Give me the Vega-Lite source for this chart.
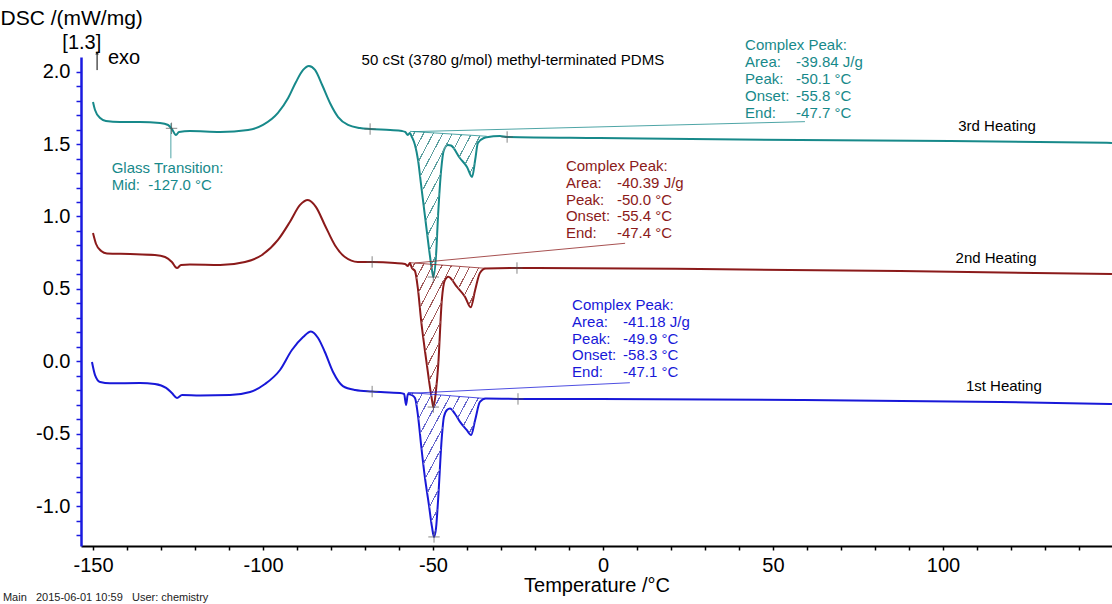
{
  "$schema": "https://vega.github.io/schema/vega-lite/v6.json",
  "autosize": "none",
  "width": 1031,
  "height": 489,
  "padding": {"left": 81, "top": 57, "right": 0, "bottom": 58},
  "background": "white",
  "config": {
    "view": {"stroke": null},
    "font": "Liberation Sans",
    "axis": {"labelOverlap": false, "labelFlush": false, "grid": false, "labelFont": "Liberation Sans", "titleFont": "Liberation Sans", "labelFontSize": 20, "labelColor": "black", "titleColor": "black", "titleFontWeight": "normal", "labelBound": false},
    "axisX": {"domainColor": "black", "domainWidth": 2, "tickColor": "black", "tickSize": 4, "tickWidth": 1.5, "labelPadding": 5, "titleFontSize": 20, "titlePadding": 0},
    "axisY": {"domainColor": "#1a1ae0", "domainWidth": 2.5, "tickColor": "#1a1ae0", "tickSize": 5, "tickWidth": 1.5, "labelPadding": 6, "titleFontSize": 21}
  },
  "datasets": {
    "curves": [
      {"s":"3rd","T":-150,"v":1.791},{"s":"3rd","T":-149.4,"v":1.735},{"s":"3rd","T":-147.9,"v":1.68},{"s":"3rd","T":-146.2,"v":1.66},{"s":"3rd","T":-142.1,"v":1.653},{"s":"3rd","T":-136.2,"v":1.653},{"s":"3rd","T":-130.3,"v":1.646},{"s":"3rd","T":-127.9,"v":1.632},{"s":"3rd","T":-126.8,"v":1.604},{"s":"3rd","T":-125.6,"v":1.563},{"s":"3rd","T":-124.7,"v":1.584},{"s":"3rd","T":-121.5,"v":1.59},{"s":"3rd","T":-112.6,"v":1.584},{"s":"3rd","T":-104.4,"v":1.597},{"s":"3rd","T":-100,"v":1.632},{"s":"3rd","T":-95.6,"v":1.715},{"s":"3rd","T":-92.6,"v":1.818},{"s":"3rd","T":-90.3,"v":1.929},{"s":"3rd","T":-88.2,"v":2.012},{"s":"3rd","T":-86.5,"v":2.039},{"s":"3rd","T":-84.7,"v":2.012},{"s":"3rd","T":-82.6,"v":1.908},{"s":"3rd","T":-80.3,"v":1.784},{"s":"3rd","T":-77.9,"v":1.687},{"s":"3rd","T":-75,"v":1.632},{"s":"3rd","T":-71.5,"v":1.611},{"s":"3rd","T":-68.5,"v":1.604},{"s":"3rd","T":-62.6,"v":1.597},{"s":"3rd","T":-59.1,"v":1.59},{"s":"3rd","T":-58.2,"v":1.584},{"s":"3rd","T":-57.4,"v":1.563},
      {"s":"3rd","T":-56.8,"v":1.577,"b":1.588},{"s":"3rd","T":-56.2,"v":1.549,"b":1.587},{"s":"3rd","T":-55.3,"v":1.494,"b":1.586},{"s":"3rd","T":-54.4,"v":1.39,"b":1.584},{"s":"3rd","T":-53.5,"v":1.218,"b":1.583},{"s":"3rd","T":-52.4,"v":1.01,"b":1.581},{"s":"3rd","T":-51.2,"v":0.782,"b":1.58},{"s":"3rd","T":-50.3,"v":0.63,"b":1.578},{"s":"3rd","T":-49.9,"v":0.582,"b":1.578},{"s":"3rd","T":-49.1,"v":0.734,"b":1.576},{"s":"3rd","T":-48.5,"v":1.01,"b":1.575},{"s":"3rd","T":-47.6,"v":1.321,"b":1.574},{"s":"3rd","T":-46.8,"v":1.459,"b":1.573},{"s":"3rd","T":-45.6,"v":1.494,"b":1.571},{"s":"3rd","T":-44.7,"v":1.49,"b":1.57},{"s":"3rd","T":-42.1,"v":1.404,"b":1.566},{"s":"3rd","T":-40,"v":1.342,"b":1.563},{"s":"3rd","T":-38.5,"v":1.273,"b":1.56},{"s":"3rd","T":-37.6,"v":1.39,"b":1.559},{"s":"3rd","T":-36.8,"v":1.508,"b":1.558},{"s":"3rd","T":-35,"v":1.542,"b":1.555},{"s":"3rd","T":-34.2,"v":1.548,"b":1.554},
      {"s":"3rd","T":-30.3,"v":1.556},{"s":"3rd","T":-28.2,"v":1.549},{"s":"3rd","T":-0.9,"v":1.542},{"s":"3rd","T":57.9,"v":1.528},{"s":"3rd","T":102.1,"v":1.521},{"s":"3rd","T":149.7,"v":1.508},

      {"s":"2nd","T":-150,"v":0.886},{"s":"2nd","T":-149.1,"v":0.81},{"s":"2nd","T":-147.6,"v":0.762},{"s":"2nd","T":-145.9,"v":0.745},{"s":"2nd","T":-139.1,"v":0.741},{"s":"2nd","T":-131.8,"v":0.734},{"s":"2nd","T":-128.8,"v":0.72},{"s":"2nd","T":-126.8,"v":0.686},{"s":"2nd","T":-125.3,"v":0.644},{"s":"2nd","T":-124.1,"v":0.665},{"s":"2nd","T":-121.5,"v":0.668},{"s":"2nd","T":-112.6,"v":0.665},{"s":"2nd","T":-105.3,"v":0.686},{"s":"2nd","T":-100.3,"v":0.734},{"s":"2nd","T":-95.6,"v":0.838},{"s":"2nd","T":-92.1,"v":0.962},{"s":"2nd","T":-89.1,"v":1.08},{"s":"2nd","T":-86.8,"v":1.114},{"s":"2nd","T":-84.4,"v":1.065},{"s":"2nd","T":-81.8,"v":0.94},{"s":"2nd","T":-78.8,"v":0.8},{"s":"2nd","T":-75.9,"v":0.72},{"s":"2nd","T":-72.1,"v":0.686},{"s":"2nd","T":-67.9,"v":0.686},{"s":"2nd","T":-61.2,"v":0.679},{"s":"2nd","T":-58.2,"v":0.672},{"s":"2nd","T":-57.4,"v":0.658},
      {"s":"2nd","T":-56.8,"v":0.679,"b":0.681},{"s":"2nd","T":-56.2,"v":0.644,"b":0.68},{"s":"2nd","T":-55.3,"v":0.624,"b":0.678},{"s":"2nd","T":-54.4,"v":0.493,"b":0.677},{"s":"2nd","T":-53.5,"v":0.285,"b":0.675},{"s":"2nd","T":-52.4,"v":0.078,"b":0.673},{"s":"2nd","T":-51.2,"v":-0.129,"b":0.671},{"s":"2nd","T":-50.3,"v":-0.267,"b":0.67},{"s":"2nd","T":-49.9,"v":-0.316,"b":0.669},{"s":"2nd","T":-49.1,"v":-0.198,"b":0.668},{"s":"2nd","T":-48.5,"v":-0.039,"b":0.667},{"s":"2nd","T":-47.4,"v":0.424,"b":0.665},{"s":"2nd","T":-46.5,"v":0.562,"b":0.663},{"s":"2nd","T":-45.5,"v":0.584,"b":0.661},{"s":"2nd","T":-43,"v":0.515,"b":0.657},{"s":"2nd","T":-40.6,"v":0.446,"b":0.653},{"s":"2nd","T":-38.9,"v":0.373,"b":0.65},{"s":"2nd","T":-37.6,"v":0.492,"b":0.648},{"s":"2nd","T":-36.2,"v":0.61,"b":0.645},{"s":"2nd","T":-34.5,"v":0.64,"b":0.642},
      {"s":"2nd","T":-25.3,"v":0.644},{"s":"2nd","T":28.5,"v":0.637},{"s":"2nd","T":87.4,"v":0.623},{"s":"2nd","T":149.7,"v":0.603},

      {"s":"1st","T":-150.3,"v":-0.005},{"s":"1st","T":-149.4,"v":-0.095},{"s":"1st","T":-147.9,"v":-0.143},{"s":"1st","T":-145,"v":-0.152},{"s":"1st","T":-136.2,"v":-0.15},{"s":"1st","T":-131.8,"v":-0.157},{"s":"1st","T":-128.5,"v":-0.184},{"s":"1st","T":-126.8,"v":-0.219},{"s":"1st","T":-125.3,"v":-0.253},{"s":"1st","T":-123.8,"v":-0.233},{"s":"1st","T":-118.5,"v":-0.236},{"s":"1st","T":-109.7,"v":-0.233},{"s":"1st","T":-103.8,"v":-0.212},{"s":"1st","T":-99.4,"v":-0.157},{"s":"1st","T":-95,"v":-0.06},{"s":"1st","T":-91.5,"v":0.078},{"s":"1st","T":-88.2,"v":0.168},{"s":"1st","T":-85.9,"v":0.206},{"s":"1st","T":-83.8,"v":0.161},{"s":"1st","T":-81.8,"v":0.064},{"s":"1st","T":-79.4,"v":-0.074},{"s":"1st","T":-76.5,"v":-0.171},{"s":"1st","T":-72.9,"v":-0.198},{"s":"1st","T":-67.9,"v":-0.209},{"s":"1st","T":-59.7,"v":-0.219},{"s":"1st","T":-58.5,"v":-0.226},{"s":"1st","T":-57.9,"v":-0.302},
      {"s":"1st","T":-57.4,"v":-0.226,"b":-0.215},{"s":"1st","T":-56.2,"v":-0.233,"b":-0.217},{"s":"1st","T":-55.3,"v":-0.253,"b":-0.219},{"s":"1st","T":-54.4,"v":-0.378,"b":-0.22},{"s":"1st","T":-53.5,"v":-0.578,"b":-0.222},{"s":"1st","T":-52.4,"v":-0.799,"b":-0.224},{"s":"1st","T":-51.2,"v":-0.992,"b":-0.226},{"s":"1st","T":-50.3,"v":-1.144,"b":-0.228},{"s":"1st","T":-49.7,"v":-1.213,"b":-0.229},{"s":"1st","T":-49.1,"v":-1.151,"b":-0.23},{"s":"1st","T":-48.5,"v":-0.958,"b":-0.231},{"s":"1st","T":-47.4,"v":-0.523,"b":-0.233},{"s":"1st","T":-46.8,"v":-0.385,"b":-0.234},{"s":"1st","T":-45.9,"v":-0.336,"b":-0.236},{"s":"1st","T":-45,"v":-0.326,"b":-0.237},{"s":"1st","T":-43.5,"v":-0.364,"b":-0.24},{"s":"1st","T":-42.1,"v":-0.417,"b":-0.243},{"s":"1st","T":-40.1,"v":-0.474,"b":-0.246},{"s":"1st","T":-38.8,"v":-0.509,"b":-0.249},{"s":"1st","T":-37.6,"v":-0.405,"b":-0.251},{"s":"1st","T":-36.2,"v":-0.281,"b":-0.254},{"s":"1st","T":-34.5,"v":-0.257,"b":-0.257},
      {"s":"1st","T":-25,"v":-0.26},{"s":"1st","T":-0.9,"v":-0.26},{"s":"1st","T":57.9,"v":-0.267},{"s":"1st","T":116.8,"v":-0.281},{"s":"1st","T":149.7,"v":-0.295}
    ],
    "leaders": [
      {"s":"3rd","id":"tb","T":-56.8,"v":1.588},{"s":"3rd","id":"tb","T":-34.2,"v":1.554},
      {"s":"3rd","id":"tl","T":-55.9,"v":1.586},{"s":"3rd","id":"tl","T":59.4,"v":1.655},
      {"s":"3rd","id":"tg","T":-127.1,"v":1.644},{"s":"3rd","id":"tg","T":-127.1,"v":1.402},
      {"s":"2nd","id":"rb","T":-56.8,"v":0.681},{"s":"2nd","id":"rb","T":-34.5,"v":0.642},
      {"s":"2nd","id":"rl","T":-55.3,"v":0.679},{"s":"2nd","id":"rl","T":6.5,"v":0.815},
      {"s":"1st","id":"bb","T":-57.4,"v":-0.215},{"s":"1st","id":"bb","T":-34.5,"v":-0.257},
      {"s":"1st","id":"bl","T":-56.8,"v":-0.221},{"s":"1st","id":"bl","T":7.9,"v":-0.148}
    ],
    "crosses": [
      {"s":"3rd","T":-126.9,"v":1.609},{"s":"3rd","T":-68.5,"v":1.604},{"s":"3rd","T":-28.2,"v":1.549},{"s":"3rd","T":-49.9,"v":0.582},
      {"s":"2nd","T":-67.9,"v":0.686},{"s":"2nd","T":-25.3,"v":0.644},{"s":"2nd","T":-49.9,"v":-0.316},
      {"s":"1st","T":-67.9,"v":-0.209},{"s":"1st","T":-25,"v":-0.26},{"s":"1st","T":-49.7,"v":-1.213}
    ],
    "notes": [
      {"s":"3rd","T":41.8,"v":2.184,"lab":"Complex Peak:","val":""},
      {"s":"3rd","T":41.8,"v":2.067,"lab":"Area:","val":"-39.84 J/g"},
      {"s":"3rd","T":41.8,"v":1.95,"lab":"Peak:","val":"-50.1 °C"},
      {"s":"3rd","T":41.8,"v":1.832,"lab":"Onset:","val":"-55.8 °C"},
      {"s":"3rd","T":41.8,"v":1.716,"lab":"End:","val":"-47.7 °C"},
      {"s":"2nd","T":-10.9,"v":1.349,"lab":"Complex Peak:","val":""},
      {"s":"2nd","T":-10.9,"v":1.231,"lab":"Area:","val":"-40.39 J/g"},
      {"s":"2nd","T":-10.9,"v":1.114,"lab":"Peak:","val":"-50.0 °C"},
      {"s":"2nd","T":-10.9,"v":1.003,"lab":"Onset:","val":"-55.4 °C"},
      {"s":"2nd","T":-10.9,"v":0.886,"lab":"End:","val":"-47.4 °C"},
      {"s":"1st","T":-9.1,"v":0.389,"lab":"Complex Peak:","val":""},
      {"s":"1st","T":-9.1,"v":0.272,"lab":"Area:","val":"-41.18 J/g"},
      {"s":"1st","T":-9.1,"v":0.154,"lab":"Peak:","val":"-49.9 °C"},
      {"s":"1st","T":-9.1,"v":0.044,"lab":"Onset:","val":"-58.3 °C"},
      {"s":"1st","T":-9.1,"v":-0.074,"lab":"End:","val":"-47.1 °C"},
      {"s":"3rd","T":-144.5,"v":1.333,"lab":"Glass Transition:","val":""},
      {"s":"3rd","T":-144.5,"v":1.218,"lab":"Mid:\u00a0\u00a0-127.0 °C","val":""}
    ],
    "names": [
      {"T":115.9,"v":1.625,"txt":"3rd Heating"},
      {"T":115.6,"v":0.713,"txt":"2nd Heating"},
      {"T":117.9,"v":-0.17,"txt":"1st Heating"}
    ],
    "misc": [
      {"k":"title","T":-26.5,"v":2.081,"txt":"50 cSt (3780 g/mol) methyl-terminated PDMS"},
      {"k":"bracket","T":-153.3,"v":2.198,"txt":"[1.3]"},
      {"k":"exo","T":-145.6,"v":2.095,"txt":"exo"},
      {"k":"arrow","T":-148.8,"v":2.136,"v2":2.011},
      {"k":"head","T":-148.8,"v":2.13},
      {"k":"foot","T":-176.5,"v":-1.635,"txt":"Main\u00a0\u00a0\u00a02015-06-01 10:59\u00a0\u00a0\u00a0User: chemistry"}
    ]
  },
  "encoding": {
    "x": {"field": "T", "type": "quantitative", "scale": {"domain": [-153.53, 149.71], "nice": false, "zero": false},
      "axis": {"values": [-150,-140,-130,-120,-110,-100,-90,-80,-70,-60,-50,-40,-30,-20,-10,0,10,20,30,40,50,60,70,80,90,100,110,120,130,140],
        "labelExpr": "datum.value % 50 === 0 ? (datum.value < 0 ? '-' : '') + format(abs(datum.value), 'd') : ''",
        "labelOverlap": false, "title": "Temperature /°C"}},
    "y": {"field": "v", "type": "quantitative", "scale": {"domain": [-1.2756, 2.1015], "nice": false, "zero": false},
      "axis": {"values": [-1.2,-1.1,-1,-0.9,-0.8,-0.7,-0.6,-0.5,-0.4,-0.3,-0.2,-0.1,0,0.1,0.2,0.3,0.4,0.5,0.6,0.7,0.8,0.9,1,1.1,1.2,1.3,1.4,1.5,1.6,1.7,1.8,1.9,2],
        "labelExpr": "abs(round(datum.value*10)) % 5 === 0 ? (datum.value < -0.001 ? '-' : '') + format(abs(datum.value), '.1f') : ''",
        "labelOverlap": false,
        "title": "DSC /(mW/mg)", "titleAngle": 0, "titleAlign": "left", "titleBaseline": "middle", "titleX": -81, "titleY": -39}}
  },
  "layer": [
    {
      "data": {"name": "curves"},
      "mark": {"type": "line", "strokeWidth": 2, "interpolate": "monotone"},
      "encoding": {
        "color": {"field": "s", "type": "nominal", "legend": null,
          "scale": {"domain": ["3rd", "2nd", "1st"], "range": ["#17898a", "#8b1a1a", "#1818d8"]}}
      }
    },
    {
      "data": {"name": "curves"},
      "transform": [{"filter": "datum.s === '3rd' && isValid(datum.b)"}],
      "mark": {"type": "area", "fill": {"gradient": "linear", "x1": 0, "y1": 0, "x2": 1, "y2": 1, "stops": [
        {"offset":0.03,"color":"rgba(255,255,255,0)"},{"offset":0.03,"color":"#5c9f9f"},{"offset":0.038,"color":"#5c9f9f"},{"offset":0.038,"color":"rgba(255,255,255,0)"},
        {"offset":0.0925,"color":"rgba(255,255,255,0)"},{"offset":0.0925,"color":"#5c9f9f"},{"offset":0.1005,"color":"#5c9f9f"},{"offset":0.1005,"color":"rgba(255,255,255,0)"},
        {"offset":0.155,"color":"rgba(255,255,255,0)"},{"offset":0.155,"color":"#5c9f9f"},{"offset":0.163,"color":"#5c9f9f"},{"offset":0.163,"color":"rgba(255,255,255,0)"},
        {"offset":0.2175,"color":"rgba(255,255,255,0)"},{"offset":0.2175,"color":"#5c9f9f"},{"offset":0.2255,"color":"#5c9f9f"},{"offset":0.2255,"color":"rgba(255,255,255,0)"},
        {"offset":0.28,"color":"rgba(255,255,255,0)"},{"offset":0.28,"color":"#5c9f9f"},{"offset":0.288,"color":"#5c9f9f"},{"offset":0.288,"color":"rgba(255,255,255,0)"},
        {"offset":0.3425,"color":"rgba(255,255,255,0)"},{"offset":0.3425,"color":"#5c9f9f"},{"offset":0.3505,"color":"#5c9f9f"},{"offset":0.3505,"color":"rgba(255,255,255,0)"},
        {"offset":0.405,"color":"rgba(255,255,255,0)"},{"offset":0.405,"color":"#5c9f9f"},{"offset":0.413,"color":"#5c9f9f"},{"offset":0.413,"color":"rgba(255,255,255,0)"},
        {"offset":0.4675,"color":"rgba(255,255,255,0)"},{"offset":0.4675,"color":"#5c9f9f"},{"offset":0.4755,"color":"#5c9f9f"},{"offset":0.4755,"color":"rgba(255,255,255,0)"},
        {"offset":0.53,"color":"rgba(255,255,255,0)"},{"offset":0.53,"color":"#5c9f9f"},{"offset":0.538,"color":"#5c9f9f"},{"offset":0.538,"color":"rgba(255,255,255,0)"},
        {"offset":0.5925,"color":"rgba(255,255,255,0)"},{"offset":0.5925,"color":"#5c9f9f"},{"offset":0.6005,"color":"#5c9f9f"},{"offset":0.6005,"color":"rgba(255,255,255,0)"},
        {"offset":0.655,"color":"rgba(255,255,255,0)"},{"offset":0.655,"color":"#5c9f9f"},{"offset":0.663,"color":"#5c9f9f"},{"offset":0.663,"color":"rgba(255,255,255,0)"},
        {"offset":0.7175,"color":"rgba(255,255,255,0)"},{"offset":0.7175,"color":"#5c9f9f"},{"offset":0.7255,"color":"#5c9f9f"},{"offset":0.7255,"color":"rgba(255,255,255,0)"},
        {"offset":0.78,"color":"rgba(255,255,255,0)"},{"offset":0.78,"color":"#5c9f9f"},{"offset":0.788,"color":"#5c9f9f"},{"offset":0.788,"color":"rgba(255,255,255,0)"},
        {"offset":0.8425,"color":"rgba(255,255,255,0)"},{"offset":0.8425,"color":"#5c9f9f"},{"offset":0.8505,"color":"#5c9f9f"},{"offset":0.8505,"color":"rgba(255,255,255,0)"},
        {"offset":0.905,"color":"rgba(255,255,255,0)"},{"offset":0.905,"color":"#5c9f9f"},{"offset":0.913,"color":"#5c9f9f"},{"offset":0.913,"color":"rgba(255,255,255,0)"},
        {"offset":0.9675,"color":"rgba(255,255,255,0)"},{"offset":0.9675,"color":"#5c9f9f"},{"offset":0.9755,"color":"#5c9f9f"},{"offset":0.9755,"color":"rgba(255,255,255,0)"}
      ]}},
      "encoding": {"y2": {"field": "b"}}
    },
    {
      "data": {"name": "curves"},
      "transform": [{"filter": "datum.s === '2nd' && isValid(datum.b)"}],
      "mark": {"type": "area", "fill": {"gradient": "linear", "x1": 0, "y1": 0, "x2": 1, "y2": 1, "stops": [
        {"offset":0.03,"color":"rgba(255,255,255,0)"},{"offset":0.03,"color":"#a05a5a"},{"offset":0.038,"color":"#a05a5a"},{"offset":0.038,"color":"rgba(255,255,255,0)"},
        {"offset":0.0925,"color":"rgba(255,255,255,0)"},{"offset":0.0925,"color":"#a05a5a"},{"offset":0.1005,"color":"#a05a5a"},{"offset":0.1005,"color":"rgba(255,255,255,0)"},
        {"offset":0.155,"color":"rgba(255,255,255,0)"},{"offset":0.155,"color":"#a05a5a"},{"offset":0.163,"color":"#a05a5a"},{"offset":0.163,"color":"rgba(255,255,255,0)"},
        {"offset":0.2175,"color":"rgba(255,255,255,0)"},{"offset":0.2175,"color":"#a05a5a"},{"offset":0.2255,"color":"#a05a5a"},{"offset":0.2255,"color":"rgba(255,255,255,0)"},
        {"offset":0.28,"color":"rgba(255,255,255,0)"},{"offset":0.28,"color":"#a05a5a"},{"offset":0.288,"color":"#a05a5a"},{"offset":0.288,"color":"rgba(255,255,255,0)"},
        {"offset":0.3425,"color":"rgba(255,255,255,0)"},{"offset":0.3425,"color":"#a05a5a"},{"offset":0.3505,"color":"#a05a5a"},{"offset":0.3505,"color":"rgba(255,255,255,0)"},
        {"offset":0.405,"color":"rgba(255,255,255,0)"},{"offset":0.405,"color":"#a05a5a"},{"offset":0.413,"color":"#a05a5a"},{"offset":0.413,"color":"rgba(255,255,255,0)"},
        {"offset":0.4675,"color":"rgba(255,255,255,0)"},{"offset":0.4675,"color":"#a05a5a"},{"offset":0.4755,"color":"#a05a5a"},{"offset":0.4755,"color":"rgba(255,255,255,0)"},
        {"offset":0.53,"color":"rgba(255,255,255,0)"},{"offset":0.53,"color":"#a05a5a"},{"offset":0.538,"color":"#a05a5a"},{"offset":0.538,"color":"rgba(255,255,255,0)"},
        {"offset":0.5925,"color":"rgba(255,255,255,0)"},{"offset":0.5925,"color":"#a05a5a"},{"offset":0.6005,"color":"#a05a5a"},{"offset":0.6005,"color":"rgba(255,255,255,0)"},
        {"offset":0.655,"color":"rgba(255,255,255,0)"},{"offset":0.655,"color":"#a05a5a"},{"offset":0.663,"color":"#a05a5a"},{"offset":0.663,"color":"rgba(255,255,255,0)"},
        {"offset":0.7175,"color":"rgba(255,255,255,0)"},{"offset":0.7175,"color":"#a05a5a"},{"offset":0.7255,"color":"#a05a5a"},{"offset":0.7255,"color":"rgba(255,255,255,0)"},
        {"offset":0.78,"color":"rgba(255,255,255,0)"},{"offset":0.78,"color":"#a05a5a"},{"offset":0.788,"color":"#a05a5a"},{"offset":0.788,"color":"rgba(255,255,255,0)"},
        {"offset":0.8425,"color":"rgba(255,255,255,0)"},{"offset":0.8425,"color":"#a05a5a"},{"offset":0.8505,"color":"#a05a5a"},{"offset":0.8505,"color":"rgba(255,255,255,0)"},
        {"offset":0.905,"color":"rgba(255,255,255,0)"},{"offset":0.905,"color":"#a05a5a"},{"offset":0.913,"color":"#a05a5a"},{"offset":0.913,"color":"rgba(255,255,255,0)"},
        {"offset":0.9675,"color":"rgba(255,255,255,0)"},{"offset":0.9675,"color":"#a05a5a"},{"offset":0.9755,"color":"#a05a5a"},{"offset":0.9755,"color":"rgba(255,255,255,0)"}
      ]}},
      "encoding": {"y2": {"field": "b"}}
    },
    {
      "data": {"name": "curves"},
      "transform": [{"filter": "datum.s === '1st' && isValid(datum.b)"}],
      "mark": {"type": "area", "fill": {"gradient": "linear", "x1": 0, "y1": 0, "x2": 1, "y2": 1, "stops": [
        {"offset":0.03,"color":"rgba(255,255,255,0)"},{"offset":0.03,"color":"#6666cc"},{"offset":0.038,"color":"#6666cc"},{"offset":0.038,"color":"rgba(255,255,255,0)"},
        {"offset":0.0925,"color":"rgba(255,255,255,0)"},{"offset":0.0925,"color":"#6666cc"},{"offset":0.1005,"color":"#6666cc"},{"offset":0.1005,"color":"rgba(255,255,255,0)"},
        {"offset":0.155,"color":"rgba(255,255,255,0)"},{"offset":0.155,"color":"#6666cc"},{"offset":0.163,"color":"#6666cc"},{"offset":0.163,"color":"rgba(255,255,255,0)"},
        {"offset":0.2175,"color":"rgba(255,255,255,0)"},{"offset":0.2175,"color":"#6666cc"},{"offset":0.2255,"color":"#6666cc"},{"offset":0.2255,"color":"rgba(255,255,255,0)"},
        {"offset":0.28,"color":"rgba(255,255,255,0)"},{"offset":0.28,"color":"#6666cc"},{"offset":0.288,"color":"#6666cc"},{"offset":0.288,"color":"rgba(255,255,255,0)"},
        {"offset":0.3425,"color":"rgba(255,255,255,0)"},{"offset":0.3425,"color":"#6666cc"},{"offset":0.3505,"color":"#6666cc"},{"offset":0.3505,"color":"rgba(255,255,255,0)"},
        {"offset":0.405,"color":"rgba(255,255,255,0)"},{"offset":0.405,"color":"#6666cc"},{"offset":0.413,"color":"#6666cc"},{"offset":0.413,"color":"rgba(255,255,255,0)"},
        {"offset":0.4675,"color":"rgba(255,255,255,0)"},{"offset":0.4675,"color":"#6666cc"},{"offset":0.4755,"color":"#6666cc"},{"offset":0.4755,"color":"rgba(255,255,255,0)"},
        {"offset":0.53,"color":"rgba(255,255,255,0)"},{"offset":0.53,"color":"#6666cc"},{"offset":0.538,"color":"#6666cc"},{"offset":0.538,"color":"rgba(255,255,255,0)"},
        {"offset":0.5925,"color":"rgba(255,255,255,0)"},{"offset":0.5925,"color":"#6666cc"},{"offset":0.6005,"color":"#6666cc"},{"offset":0.6005,"color":"rgba(255,255,255,0)"},
        {"offset":0.655,"color":"rgba(255,255,255,0)"},{"offset":0.655,"color":"#6666cc"},{"offset":0.663,"color":"#6666cc"},{"offset":0.663,"color":"rgba(255,255,255,0)"},
        {"offset":0.7175,"color":"rgba(255,255,255,0)"},{"offset":0.7175,"color":"#6666cc"},{"offset":0.7255,"color":"#6666cc"},{"offset":0.7255,"color":"rgba(255,255,255,0)"},
        {"offset":0.78,"color":"rgba(255,255,255,0)"},{"offset":0.78,"color":"#6666cc"},{"offset":0.788,"color":"#6666cc"},{"offset":0.788,"color":"rgba(255,255,255,0)"},
        {"offset":0.8425,"color":"rgba(255,255,255,0)"},{"offset":0.8425,"color":"#6666cc"},{"offset":0.8505,"color":"#6666cc"},{"offset":0.8505,"color":"rgba(255,255,255,0)"},
        {"offset":0.905,"color":"rgba(255,255,255,0)"},{"offset":0.905,"color":"#6666cc"},{"offset":0.913,"color":"#6666cc"},{"offset":0.913,"color":"rgba(255,255,255,0)"},
        {"offset":0.9675,"color":"rgba(255,255,255,0)"},{"offset":0.9675,"color":"#6666cc"},{"offset":0.9755,"color":"#6666cc"},{"offset":0.9755,"color":"rgba(255,255,255,0)"}
      ]}},
      "encoding": {"y2": {"field": "b"}}
    },
    {
      "data": {"name": "leaders"},
      "mark": {"type": "line", "strokeWidth": 0.9, "opacity": 0.85},
      "encoding": {
        "detail": {"field": "id"},
        "color": {"field": "s", "type": "nominal", "legend": null}
      }
    },
    {
      "data": {"name": "crosses"},
      "mark": {"type": "point", "shape": "M-1,0H1M0,-1V1", "size": 130, "filled": false, "stroke": "#555555", "strokeWidth": 1}
    },
    {
      "data": {"name": "notes"},
      "mark": {"type": "text", "align": "left", "baseline": "middle", "fontSize": 15, "font": "Liberation Sans"},
      "encoding": {
        "text": {"field": "lab"},
        "color": {"field": "s", "type": "nominal", "legend": null}
      }
    },
    {
      "data": {"name": "notes"},
      "transform": [{"filter": "datum.val !== ''"}],
      "mark": {"type": "text", "align": "left", "baseline": "middle", "fontSize": 15, "font": "Liberation Sans", "dx": 51},
      "encoding": {
        "text": {"field": "val"},
        "color": {"field": "s", "type": "nominal", "legend": null}
      }
    },
    {
      "data": {"name": "names"},
      "mark": {"type": "text", "align": "center", "baseline": "middle", "fontSize": 15, "font": "Liberation Sans", "color": "black"},
      "encoding": {"text": {"field": "txt"}}
    },
    {
      "data": {"name": "misc"},
      "transform": [{"filter": "datum.k === 'title'"}],
      "mark": {"type": "text", "align": "center", "baseline": "middle", "fontSize": 15, "font": "Liberation Sans", "color": "black"},
      "encoding": {"text": {"field": "txt"}}
    },
    {
      "data": {"name": "misc"},
      "transform": [{"filter": "datum.k === 'bracket'"}],
      "mark": {"type": "text", "align": "center", "baseline": "middle", "fontSize": 20, "font": "Liberation Sans", "color": "black"},
      "encoding": {"text": {"field": "txt"}}
    },
    {
      "data": {"name": "misc"},
      "transform": [{"filter": "datum.k === 'exo'"}],
      "mark": {"type": "text", "align": "left", "baseline": "middle", "fontSize": 20, "font": "Liberation Sans", "color": "black"},
      "encoding": {"text": {"field": "txt"}}
    },
    {
      "data": {"name": "misc"},
      "transform": [{"filter": "datum.k === 'arrow'"}],
      "mark": {"type": "rule", "color": "black", "strokeWidth": 1},
      "encoding": {"y2": {"field": "v2"}}
    },
    {
      "data": {"name": "misc"},
      "transform": [{"filter": "datum.k === 'head'"}],
      "mark": {"type": "point", "shape": "triangle-up", "size": 14, "filled": true, "color": "black"}
    },
    {
      "data": {"name": "misc"},
      "transform": [{"filter": "datum.k === 'foot'"}],
      "mark": {"type": "text", "align": "left", "baseline": "middle", "fontSize": 11, "font": "Liberation Sans Narrow, Liberation Sans", "color": "#222222"},
      "encoding": {"text": {"field": "txt"}}
    }
  ]
}
